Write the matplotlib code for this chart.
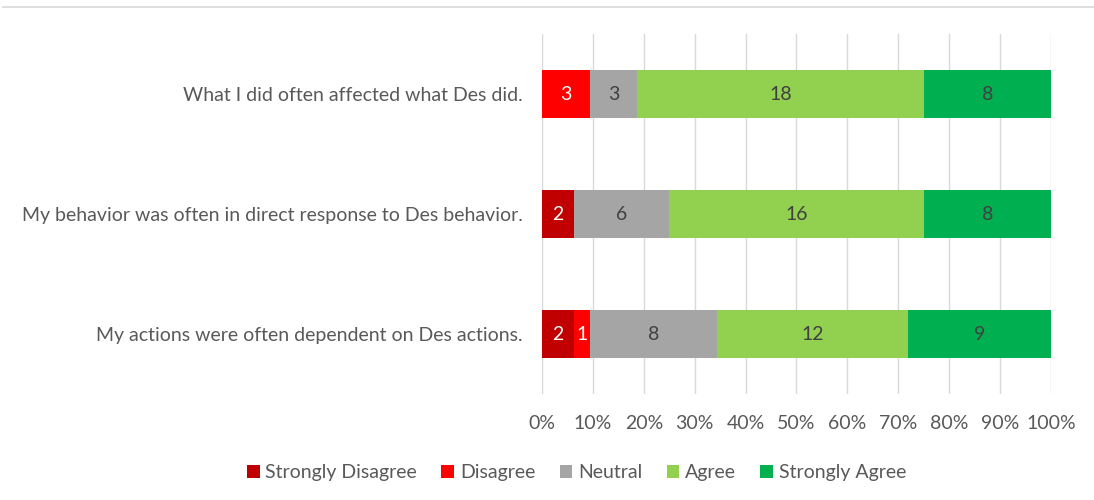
import numpy as np
import matplotlib.pyplot as plt
from matplotlib.lines import Line2D
from matplotlib.patches import Patch

plt.rcParams['font.family'] = ['Lato', 'DejaVu Sans']

# Survey statements (top to bottom as shown)
statements = ["What I did often affected what Des did.",
              "My behavior was often in direct response to Des behavior.",
              "My actions were often dependent on Des actions."]
levels = ["Strongly Disagree", "Disagree", "Neutral", "Agree", "Strongly Agree"]
colors = ["#C00000", "#FF0000", "#A5A5A5", "#92D050", "#00B050"]
text_colors = ["white", "white", "#404040", "#404040", "#404040"]

strongly_disagree = [0, 2, 2]
disagree = [3, 0, 1]
neutral = [3, 6, 8]
agree = [18, 16, 12]
strongly_agree = [8, 8, 9]

counts = np.array([strongly_disagree, disagree, neutral, agree, strongly_agree], dtype=float)
totals = counts.sum(axis=0)
shares = counts / totals

fig = plt.figure(figsize=(10.94, 5), dpi=100)
ax = fig.add_axes([0.4954, 0.212, 0.4653, 0.72])

y = np.arange(len(statements))
left = np.zeros(len(statements))
for i, lvl in enumerate(levels):
    bars = ax.barh(y, shares[i], left=left, height=0.4, color=colors[i],
                   label=lvl, zorder=3)
    for j, b in enumerate(bars):
        if counts[i, j] > 0:
            ax.text(left[j] + shares[i, j] / 2, y[j], f"{int(counts[i, j])}",
                    ha='center', va='center', fontsize=14, color=text_colors[i],
                    zorder=4)
    left += shares[i]

ax.set_ylim(len(statements) - 0.5, -0.5)
ax.set_xlim(0, 1)
ax.set_xticks(np.linspace(0, 1, 11))
ax.set_xticklabels([f"{int(round(v * 100))}%" for v in np.linspace(0, 1, 11)])
ax.set_yticks(y)
ax.set_yticklabels(statements)
ax.tick_params(axis='both', length=0, labelsize=14, labelcolor='#595959')
ax.tick_params(axis='y', pad=14)
ax.tick_params(axis='x', pad=15)
ax.grid(axis='x', color='#D9D9D9', linewidth=1, zorder=0)
for s in ax.spines.values():
    s.set_visible(False)

handles = [Patch(facecolor=c, edgecolor='none') for c in colors]
fig.legend(handles, levels, loc='center', bbox_to_anchor=(0.527, 0.055), ncol=5,
           frameon=False, fontsize=14, labelcolor='#595959', handlelength=0.65,
           handleheight=0.65, handletextpad=0.3, columnspacing=1.25)

# light border line at the top of the chart area
fig.add_artist(Line2D([0.003, 1.0], [0.986, 0.986], color='#D9D9D9', linewidth=1.2))

fig.savefig('out.png', dpi=100)
